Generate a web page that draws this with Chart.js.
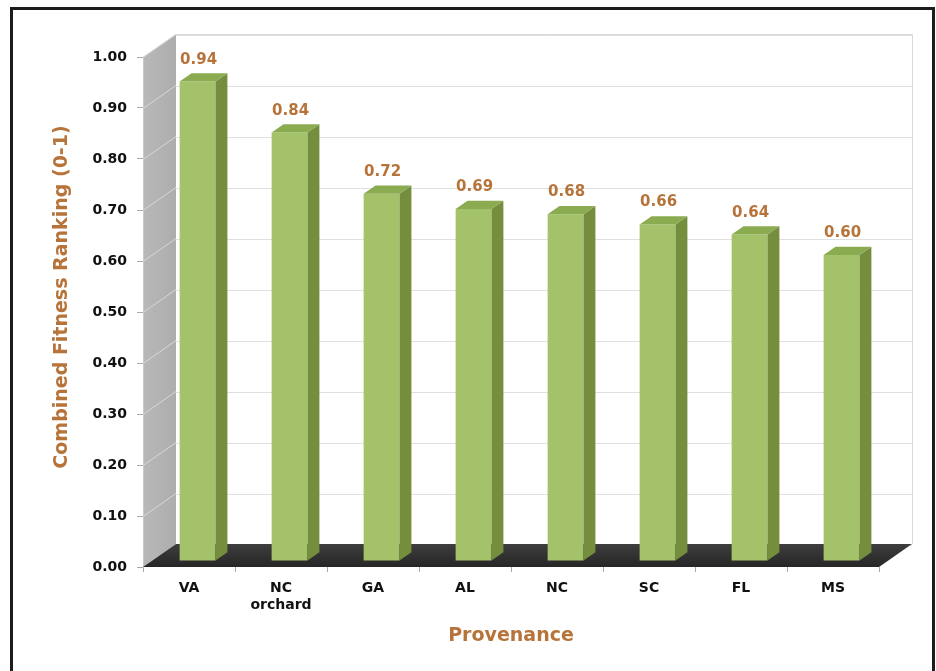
<!DOCTYPE html>
<html>
<head>
<meta charset="utf-8">
<script src="https://cdn.jsdelivr.net/npm/chart.js@4.4.1/dist/chart.umd.min.js"></script>
<style>
  html, body { margin: 0; padding: 0; background: #ffffff; }
  #wrap { width: 936px; height: 671px; position: relative; }
</style>
</head>
<body>
<div id="wrap"><canvas id="c" width="936" height="671"></canvas></div>
<script>
// Provenances and their combined fitness ranking
const categories = ['VA', ['NC', 'orchard'], 'GA', 'AL', 'NC', 'SC', 'FL', 'MS'];
const fitness = [0.94, 0.84, 0.72, 0.69, 0.68, 0.66, 0.64, 0.60];
const yTicks = [0, 0.1, 0.2, 0.3, 0.4, 0.5, 0.6, 0.7, 0.8, 0.9, 1.0];
const yTitle = 'Combined Fitness Ranking (0-1)';
const xTitle = 'Provenance';

// Pseudo-3D geometry: offset of the back wall from the front plane,
// and where the bar prisms sit within the floor depth (0 = front, 1 = back).
const WALL = { dx: 33, dy: -23 };
const BAR_DEPTH = { front: 0.26, back: 0.62 };
const depth = f => ({ x: WALL.dx * f, y: WALL.dy * f });

const BROWN = '#b7743a';
const FONT = '"DejaVu Sans", Verdana, sans-serif';

Chart.defaults.font.family = FONT;

const scenePlugin = {
  id: 'scene',
  beforeDraw(chart) {
    const { ctx } = chart;
    ctx.save();
    ctx.fillStyle = '#ffffff';
    ctx.fillRect(0, 0, chart.width, chart.height);
    // outer frame
    ctx.strokeStyle = '#1c1c1c';
    ctx.lineWidth = 3;
    ctx.strokeRect(11.5, 8.5, 922, 700);
    ctx.restore();
  },
  beforeDatasetsDraw(chart) {
    const { ctx, chartArea: a, scales: { y } } = chart;
    const b = depth(1);
    ctx.save();
    // left side wall
    const wg = ctx.createLinearGradient(a.left, 0, a.left + b.x, 0);
    wg.addColorStop(0, '#b8b8b8');
    wg.addColorStop(1, '#adadad');
    ctx.fillStyle = wg;
    ctx.beginPath();
    ctx.moveTo(a.left, a.top);
    ctx.lineTo(a.left + b.x, a.top + b.y);
    ctx.lineTo(a.left + b.x, a.bottom + b.y);
    ctx.lineTo(a.left, a.bottom);
    ctx.closePath();
    ctx.fill();
    ctx.strokeStyle = '#c8c8c8';
    ctx.lineWidth = 1;
    ctx.beginPath();
    ctx.moveTo(a.left + 0.5, a.top);
    ctx.lineTo(a.left + 0.5, a.bottom);
    ctx.stroke();

    // back wall outline
    ctx.strokeStyle = '#d9d9d9';
    ctx.beginPath();
    ctx.moveTo(a.left + b.x, Math.round(a.top + b.y) + 0.5);
    ctx.lineTo(Math.round(a.right + b.x) + 0.5, Math.round(a.top + b.y) + 0.5);
    ctx.lineTo(Math.round(a.right + b.x) + 0.5, a.bottom + b.y);
    ctx.stroke();

    // gridlines on the back wall and across the side wall
    yTicks.forEach(v => {
      const py = Math.round(y.getPixelForValue(v)) + 0.5;
      ctx.strokeStyle = '#e0e0e0';
      ctx.beginPath();
      ctx.moveTo(a.left + b.x, Math.round(py + b.y) + 0.5);
      ctx.lineTo(a.right + b.x, Math.round(py + b.y) + 0.5);
      ctx.stroke();
      ctx.strokeStyle = '#d8d8d8';
      ctx.beginPath();
      ctx.moveTo(a.left, py);
      ctx.lineTo(a.left + b.x, py + b.y);
      ctx.stroke();
    });

    // floor
    const fg = ctx.createLinearGradient(0, a.bottom + b.y, 0, a.bottom);
    fg.addColorStop(0, '#3e3e3e');
    fg.addColorStop(1, '#262626');
    ctx.fillStyle = fg;
    ctx.beginPath();
    ctx.moveTo(a.left, a.bottom);
    ctx.lineTo(a.left + b.x, a.bottom + b.y);
    ctx.lineTo(a.right + b.x, a.bottom + b.y);
    ctx.lineTo(a.right, a.bottom);
    ctx.closePath();
    ctx.fill();
    ctx.restore();

    // bar fronts stand part-way into the floor
    const f = depth(BAR_DEPTH.front);
    ctx.save();
    ctx.translate(f.x, f.y);
  },
  afterDatasetsDraw(chart) {
    const { ctx } = chart;
    ctx.restore();
    const f = depth(BAR_DEPTH.front);
    const k = depth(BAR_DEPTH.back);
    const ox = k.x - f.x, oy = k.y - f.y;
    const meta = chart.getDatasetMeta(0);
    ctx.save();
    meta.data.forEach((bar, i) => {
      const { x, y, base, width } = bar.getProps(['x', 'y', 'base', 'width'], true);
      const l = x - width / 2 + f.x;
      const r = x + width / 2 + f.x;
      const t = y + f.y;
      const bt = base + f.y;
      // side face
      ctx.fillStyle = '#748e3d';
      ctx.beginPath();
      ctx.moveTo(r, t);
      ctx.lineTo(r + ox, t + oy);
      ctx.lineTo(r + ox, bt + oy);
      ctx.lineTo(r, bt);
      ctx.closePath();
      ctx.fill();
      // top face
      ctx.fillStyle = '#8aab4f';
      ctx.beginPath();
      ctx.moveTo(l, t);
      ctx.lineTo(l + ox, t + oy);
      ctx.lineTo(r + ox, t + oy);
      ctx.lineTo(r, t);
      ctx.closePath();
      ctx.fill();
      // value label
      ctx.fillStyle = BROWN;
      ctx.font = 'bold 15px ' + FONT;
      ctx.textAlign = 'center';
      ctx.textBaseline = 'middle';
      ctx.fillText(fitness[i].toFixed(2), x + f.x + 1, t - 22);
    });
    ctx.restore();
  },
  afterDraw(chart) {
    const { ctx } = chart;
    ctx.save();
    ctx.translate(62, 297);
    ctx.rotate(-Math.PI / 2);
    ctx.fillStyle = BROWN;
    ctx.font = 'bold 19px ' + FONT;
    ctx.textAlign = 'center';
    ctx.textBaseline = 'middle';
    ctx.fillText(yTitle, 0, 0);
    ctx.restore();
  }
};

new Chart(document.getElementById('c'), {
  type: 'bar',
  data: {
    labels: categories,
    datasets: [{
      data: fitness,
      backgroundColor: '#a4c26a',
      borderWidth: 0,
      barPercentage: 0.39,
      categoryPercentage: 1,
      clip: false
    }]
  },
  options: {
    responsive: false,
    animation: false,
    devicePixelRatio: 1,
    layout: { padding: { left: 10, top: 57, right: 57, bottom: 0 } },
    plugins: {
      legend: { display: false },
      tooltip: { enabled: false }
    },
    scales: {
      x: {
        ticks: {
          color: '#111111',
          font: { weight: 'bold', size: 14, lineHeight: 1.22 },
          padding: 8,
          maxRotation: 0,
          autoSkip: false
        },
        grid: { offset: true, drawOnChartArea: false, drawTicks: true, tickLength: 5, color: '#a8a8a8' },
        border: { display: false },
        title: {
          display: true,
          text: xTitle,
          color: BROWN,
          font: { weight: 'bold', size: 19 },
          padding: { top: 0, bottom: 24 }
        },
        afterFit: s => { s.height = 104; }
      },
      y: {
        min: 0,
        max: 1,
        afterBuildTicks: s => { s.ticks = yTicks.map(v => ({ value: v })); },
        ticks: {
          callback: v => Number(v).toFixed(2),
          color: '#111111',
          font: { weight: 'bold', size: 14 },
          padding: 10
        },
        grid: { drawOnChartArea: false, drawTicks: true, tickLength: 6, color: '#a8a8a8' },
        border: { display: false },
        afterFit: s => { s.width = 133; }
      }
    }
  },
  plugins: [scenePlugin]
});
</script>
</body>
</html>
